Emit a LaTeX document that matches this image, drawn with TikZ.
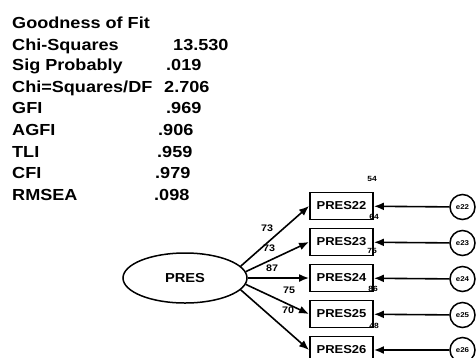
\documentclass[tikz,border=0pt]{standalone}
\usepackage{fontspec}
\newfontfamily\gof{Liberation Sans}[FakeStretch=1.13]
\usetikzlibrary{arrows.meta,shapes.geometric}
\begin{document}
\begin{tikzpicture}[x=1pt,y=-1pt,
  fit/.style={anchor=base west, inner sep=0pt, font=\gof\bfseries\fontsize{16}{16}\selectfont},
  obs/.style={draw, line width=1.9pt, minimum width=63pt, minimum height=27pt, inner sep=0pt,
              font=\gof\bfseries\fontsize{11.5}{12}\selectfont},
  lat/.style={ellipse, draw, line width=1.5pt, minimum width=124pt, minimum height=50pt, inner sep=0pt,
              font=\gof\bfseries\fontsize{13}{13}\selectfont},
  err/.style={circle, draw, line width=1.5pt, minimum size=25pt, inner sep=0pt,
              font=\gof\bfseries\fontsize{7}{7}\selectfont},
  conn/.style={line width=1.6pt, -{Latex[length=10pt,width=8pt]}},
  lab/.style={inner sep=0pt, font=\gof\bfseries\fontsize{9.5}{9.5}\selectfont},
  rsq/.style={inner sep=0pt, font=\gof\bfseries\fontsize{7.5}{7.5}\selectfont}]
\useasboundingbox (0,0) rectangle (476,357);
\clip (0,0) rectangle (476,357);

% goodness of fit table
\node[fit] (t0) at (12,28) {Goodness of Fit};
\node[fit] (t1) at (12,50) {Chi-Squares};
\node[fit] (v1) at (173,50) {13.530};
\node[fit] (t2) at (12,70.5) {Sig Probably};
\node[fit] (v2) at (166,70.5) {.019};
\node[fit] (t3) at (12,92) {Chi=Squares/DF};
\node[fit] (v3) at (164,92) {2.706};
\node[fit] (t4) at (12,113.5) {GFI};
\node[fit] (v4) at (166,113.5) {.969};
\node[fit] (t5) at (12,135) {AGFI};
\node[fit] (v5) at (158,135) {.906};
\node[fit] (t6) at (12,157) {TLI};
\node[fit] (v6) at (157,157) {.959};
\node[fit] (t7) at (12,178.5) {CFI};
\node[fit] (v7) at (155,178.5) {.979};
\node[fit] (t8) at (12,200) {RMSEA};
\node[fit] (v8) at (154,200) {.098};

% latent
\node[lat] (pres) at (185,278) {PRES};

% observed
\node[obs] (p22) at (341.5,206) {PRES22};
\node[obs] (p23) at (341.5,242) {PRES23};
\node[obs] (p24) at (341.5,278) {PRES24};
\node[obs] (p25) at (341.5,314) {PRES25};
\node[obs] (p26) at (341.5,350) {PRES26};

% errors
\node[err] (e22) at (462.5,207) {e22};
\node[err] (e23) at (462.5,243) {e23};
\node[err] (e24) at (462.5,279) {e24};
\node[err] (e25) at (462.5,315) {e25};
\node[err] (e26) at (462.5,350) {e26};

% loadings
\draw[conn] (pres.12) -- (p22.west);
\draw[conn] (pres.6) -- (p23.west);
\draw[conn] (pres.0) -- (p24.west);
\draw[conn] (pres.-6) -- (p25.west);
\draw[conn] (pres.-12) -- (p26.west);

% error paths
\draw[conn] (e22) -- (p22);
\draw[conn] (e23) -- (p23);
\draw[conn] (e24) -- (p24);
\draw[conn] (e25) -- (p25);
\draw[conn] (e26) -- (p26);

% loading labels
\node[lab] (l1) at (267,228) {73};
\node[lab] (l2) at (269,248) {73};
\node[lab] (l3) at (272,268) {87};
\node[lab] (l4) at (289,290) {75};
\node[lab] (l5) at (288,310) {70};

% squared multiple correlations
\node[rsq] (r1) at (372,179) {54};
\node[rsq] (r2) at (374,217) {64};
\node[rsq] (r3) at (372,251) {75};
\node[rsq] (r4) at (373,289) {86};
\node[rsq] (r5) at (374,326) {48};
\end{tikzpicture}
\end{document}
